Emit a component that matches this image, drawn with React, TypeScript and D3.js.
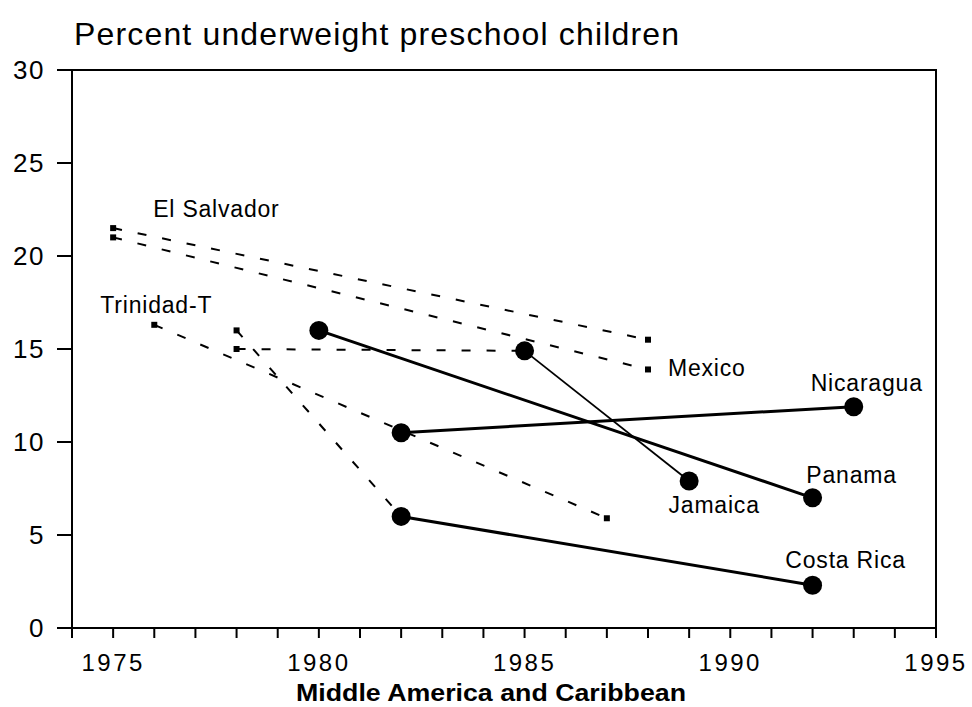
import React from "react";
import * as d3 from "d3";

// ---- data ----
const titleText = "Percent underweight preschool children";
const regionText = "Middle America and Caribbean";

const yTicks = [0, 5, 10, 15, 20, 25, 30];
const xTickLabels = [1975, 1980, 1985, 1990, 1995];

// dashed series (earlier / other survey data)
const dashedCountry = ["El Salvador", "Mexico", "Trinidad-T", "Costa Rica", "Jamaica"];
const dashedStartYear = [1975, 1975, 1976, 1978, 1978];
const dashedStartValue = [21.5, 21.0, 16.3, 16.0, 15.0];
const dashedEndYear = [1988, 1988, 1987, 1982, 1985];
const dashedEndValue = [15.5, 13.9, 5.9, 6.0, 14.9];

// solid series with round markers
const solidCountry = ["Panama", "Jamaica", "Nicaragua", "Costa Rica"];
const solidStartYear = [1980, 1985, 1982, 1982];
const solidStartValue = [16.0, 14.9, 10.5, 6.0];
const solidEndYear = [1992, 1989, 1993, 1992];
const solidEndValue = [7.0, 7.9, 11.9, 2.3];

// ---- layout / style ----
const W = 972;
const H = 707;
const FONT = "'Liberation Sans', Arial, Helvetica, sans-serif";
const solidWidth: Record<string, number> = { Panama: 3, Jamaica: 1.8, Nicaragua: 3, "Costa Rica": 3 };

// label anchor: which point, pixel offset, anchor
const labelLayout = [
  { text: "El Salvador", year: 1975, value: 21.5, dx: 40, dy: -11, anchor: "start" },
  { text: "Trinidad-T", year: 1976, value: 16.3, dx: -54, dy: -12, anchor: "start" },
  { text: "Mexico", year: 1988, value: 13.9, dx: 20, dy: 7, anchor: "start" },
  { text: "Nicaragua", year: 1993, value: 11.9, dx: 13, dy: -16, anchor: "middle" },
  { text: "Panama", year: 1992, value: 7.0, dx: 39, dy: -15, anchor: "middle" },
  { text: "Jamaica", year: 1989, value: 7.9, dx: 25, dy: 32, anchor: "middle" },
  { text: "Costa Rica", year: 1992, value: 2.3, dx: 33, dy: -17, anchor: "middle" },
];

export default function App() {
  const x = d3.scaleLinear().domain([1974, 1995]).range([72, 936]);
  const y = d3.scaleLinear().domain([0, 30]).range([628, 70]);
  const line = d3
    .line<[number, number]>()
    .x((d) => x(d[0]))
    .y((d) => y(d[1]));

  const yearTicks = d3.range(1974, 1996);

  const dashed = dashedCountry.map((c, i) => ({
    c,
    pts: [
      [dashedStartYear[i], dashedStartValue[i]],
      [dashedEndYear[i], dashedEndValue[i]],
    ] as [number, number][],
  }));
  const solid = solidCountry.map((c, i) => ({
    c,
    pts: [
      [solidStartYear[i], solidStartValue[i]],
      [solidEndYear[i], solidEndValue[i]],
    ] as [number, number][],
  }));

  return (
    <svg
      width={W}
      height={H}
      viewBox={`0 0 ${W} ${H}`}
      style={{ position: "absolute", left: 0, top: 0, background: "#fff" }}
      fontFamily={FONT}
    >
      <rect x={0} y={0} width={W} height={H} fill="#fff" />
      {/* title */}
      <text x={74} y={45} fontSize={32} textLength={605} lengthAdjust="spacing" fill="#000">
        {titleText}
      </text>

      {/* frame */}
      <rect x={x(1974)} y={y(30)} width={x(1995) - x(1974)} height={y(0) - y(30)} fill="none" stroke="#000" strokeWidth={2} />

      {/* y ticks */}
      {yTicks.map((t) => (
        <g key={"y" + t}>
          <line x1={x(1974) - 15} x2={x(1974)} y1={y(t)} y2={y(t)} stroke="#000" strokeWidth={2} />
          <text x={45} y={y(t)} dy="0.36em" textAnchor="end" fontSize={26} letterSpacing={1.5} fill="#000">
            {t}
          </text>
        </g>
      ))}

      {/* x ticks */}
      {yearTicks.map((t) => (
        <line key={"x" + t} x1={x(t)} x2={x(t)} y1={y(0)} y2={y(0) + 10} stroke="#000" strokeWidth={2} />
      ))}
      {xTickLabels.map((t) => (
        <text key={"xl" + t} x={x(t)} y={671} textAnchor="middle" fontSize={24} letterSpacing={2.5} fill="#000">
          {t}
        </text>
      ))}

      {/* dashed series */}
      {dashed.map((s) => (
        <g key={"d" + s.c}>
          <path d={line(s.pts) || ""} fill="none" stroke="#000" strokeWidth={2} strokeDasharray="9 16" />
          {s.pts.map((p, j) => (
            <rect key={j} x={x(p[0]) - 3} y={y(p[1]) - 3} width={6} height={6} fill="#000" />
          ))}
        </g>
      ))}

      {/* solid series */}
      {solid.map((s) => (
        <g key={"s" + s.c}>
          <path d={line(s.pts) || ""} fill="none" stroke="#000" strokeWidth={solidWidth[s.c]} />
          {s.pts.map((p, j) => (
            <circle key={j} cx={x(p[0])} cy={y(p[1])} r={9.5} fill="#000" />
          ))}
        </g>
      ))}

      {/* labels */}
      {labelLayout.map((l) => (
        <text
          key={l.text}
          x={x(l.year) + l.dx}
          y={y(l.value) + l.dy}
          textAnchor={l.anchor as any}
          fontSize={23}
          letterSpacing={0.8}
          fill="#000"
        >
          {l.text}
        </text>
      ))}

      {/* region caption */}
      <text x={491} y={701} textAnchor="middle" fontSize={24} fontWeight="bold" textLength={390} lengthAdjust="spacingAndGlyphs" fill="#000">
        {regionText}
      </text>
    </svg>
  );
}
